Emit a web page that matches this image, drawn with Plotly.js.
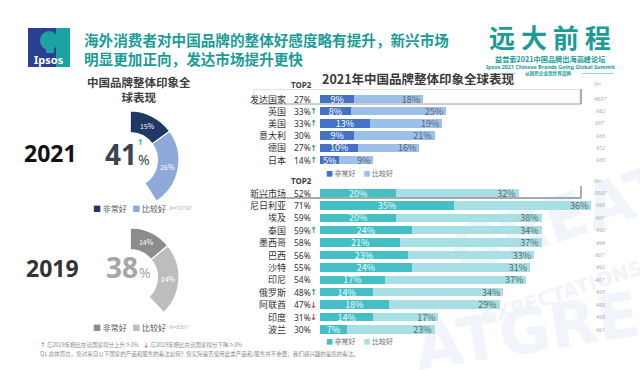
<!DOCTYPE html>
<html>
<head>
<meta charset="utf-8">
<script src="https://cdn.plot.ly/plotly-3.0.1.min.js"></script>
<style>
html,body{margin:0;padding:0;background:#fff;}
#wrap{position:relative;width:640px;height:370px;overflow:hidden;}
#wm{position:absolute;left:0;top:0;width:640px;height:370px;overflow:hidden;z-index:0;font-family:'DejaVu Sans',sans-serif;font-weight:bold;color:#f1f4fb;}
#wm div{position:absolute;white-space:nowrap;line-height:1;transform-origin:left bottom;}
#chart{position:absolute;left:0;top:0;z-index:1;}
</style>
</head>
<body>
<div id="wrap">
  <div id="wm">
    <div style="left:462px;top:222px;font-size:62px;transform:rotate(-18deg);">GREAT</div>
    <div style="left:486px;top:308px;font-size:20px;transform:rotate(-18deg);">EXPECTATIONS</div>
    <div style="left:420px;top:318px;font-size:62px;transform:rotate(-9deg);">ATGREA</div>
  </div>
  <div id="chart"></div>
</div>
<script>
// ---------- data ----------
const devCountries = ['发达国家','英国','美国','意大利','德国','日本'];
const devVery      = [9, 8, 13, 9, 10, 5];
const devFairly    = [18, 25, 19, 21, 16, 9];
const devTop2      = [27, 33, 33, 30, 27, 14];
const devN         = [4887, 982, 967, 986, 972, 980];
const devChange    = [0, 1, 1, 0, 1, 1];

const emCountries = ['新兴市场','尼日利亚','埃及','泰国','墨西哥','巴西','沙特','印尼','俄罗斯','阿联酋','印度','波兰'];
const emVery      = [20, 35, 20, 24, 21, 23, 24, 17, 14, 18, 14, 7];
const emFairly    = [32, 36, 38, 34, 37, 33, 31, 37, 34, 29, 17, 23];
const emTop2      = [52, 71, 59, 59, 58, 56, 55, 54, 48, 47, 31, 30];
const emN         = [5890, 493, 497, 490, 494, 967, 492, 487, 495, 495, 499, 491];
const emChange    = [0, 0, 0, 1, 0, 0, 0, 0, 1, -1, -1, 0];

const donutLabels = ['非常好','比较好'];
const donut2021 = [15, 26];
const donut2019 = [14, 24];
const top2021 = 41, top2019 = 38;
const n2021 = 'N=10790', n2019 = 'N=8361';

// ---------- helpers ----------
const W = 640, H = 370;
const px = x => x / W;
const py = y => 1 - y / H;
const CJK = 'Noto Sans CJK SC, Noto Sans, sans-serif';
const pct = v => v + '%';

const C = {
  devDark:'#4472c4', devLight:'#9dc0e8',
  emDark:'#45bfc6', emLight:'#a7dfe4',
  d21a:'#203864', d21b:'#8eaadb',
  d19a:'#8c8c8c', d19b:'#bdbdbd',
  teal:'#1b9c97', up:'#1fb155', down:'#e8322f'
};

const traces = [];
function barPair(names, very, fairly, yax, cDark, cLight, txtLight, txtDark){
  traces.push({
    type:'bar', orientation:'h', x:very, y:names, yaxis:yax, xaxis:'x',
    marker:{color:cDark}, text:very.map(pct), textposition:'inside',
    insidetextanchor:'middle', constraintext:'none', textangle:0,
    textfont:{family:CJK, size:9, color:txtDark}, hoverinfo:'skip', showlegend:false
  });
  traces.push({
    type:'bar', orientation:'h', x:fairly, y:names, yaxis:yax, xaxis:'x',
    marker:{color:cLight}, text:fairly.map(pct), textposition:'inside',
    insidetextanchor:'end', constraintext:'none', textangle:0,
    textfont:{family:CJK, size:9, color:txtLight}, hoverinfo:'skip', showlegend:false
  });
}
barPair(devCountries, devVery, devFairly, 'y', C.devDark, C.devLight, '#5b6470', '#ffffff');
barPair(emCountries, emVery, emFairly, 'y2', C.emDark, C.emLight, '#5a6a6c', '#eaffff');

function donut(vals, colors, dom){
  const total = vals.reduce((a,b)=>a+b,0);
  traces.push({
    type:'pie', values:[...vals, 100-total], labels:[...donutLabels,'其他'],
    sort:false, direction:'clockwise', rotation:0, hole:0.56,
    marker:{colors:[...colors,'rgba(0,0,0,0)'], line:{color:'#ffffff', width:1.2}},
    text:[...vals.map(pct), ''], textinfo:'text', textposition:'inside',
    insidetextorientation:'horizontal',
    textfont:{family:CJK, size:7, color:'#ffffff'},
    hoverinfo:'skip', showlegend:false, domain:dom
  });
}
donut(donut2021, [C.d21a, C.d21b], {x:[px(81), px(179)], y:[py(209), py(111)]});
donut(donut2019, [C.d19a, C.d19b], {x:[px(81), px(179)], y:[py(326), py(228)]});

// ---------- annotations ----------
const ann = [];
function A(o){ ann.push(Object.assign({showarrow:false, xref:'paper', yref:'paper'}, o)); }

// main title (two lines)
A({x:px(82), y:py(48.5), xanchor:'left', yanchor:'middle', align:'left',
   text:'<b>海外消费者对中国品牌的整体好感度略有提升，新兴市场</b><br><b>明显更加正向，发达市场提升更快</b>',
   font:{family:CJK, size:14.6, color:C.teal}});
// Ipsos logo text
A({x:px(49), y:py(59), xanchor:'center', yanchor:'middle', text:'<b>Ipsos</b>', font:{family:'Noto Sans, sans-serif', size:11, color:'#ffffff'}});
// right logo
A({x:px(550), y:py(36.5), xanchor:'center', yanchor:'middle', text:'<b>远 大 前 程</b>', font:{family:CJK, size:26, color:C.teal}});
A({x:px(550), y:py(58.5), xanchor:'center', yanchor:'middle', text:'<b>益普索2021中国品牌出海高峰论坛</b>', font:{family:CJK, size:7.2, color:C.teal}});
A({x:px(550), y:py(66.5), xanchor:'center', yanchor:'middle', text:'<b>Ipsos 2021 Chinese Brands Going Global Summit</b>', font:{family:'Noto Sans, sans-serif', size:5.4, color:C.teal}});
A({x:px(548), y:py(73.5), xanchor:'center', yanchor:'middle', text:'<b>从国民企业到世界品牌</b>', font:{family:CJK, size:4.6, color:C.teal}});

// left chart title (two lines)
A({x:px(139), y:py(89), xanchor:'center', yanchor:'middle', align:'center',
   text:'<b>中国品牌整体印象全</b><br><b>球表现</b>', font:{family:CJK, size:11.5, color:'#404040'}});
// years
A({x:px(50), y:py(153), xanchor:'center', yanchor:'middle', text:'<b>2021</b>', font:{family:'Noto Sans, sans-serif', size:23, color:'#111111'}});
A({x:px(52), y:py(268), xanchor:'center', yanchor:'middle', text:'<b>2019</b>', font:{family:'Noto Sans, sans-serif', size:23, color:'#333333'}});
// donut centres
A({x:px(139), y:py(154), xanchor:'right', yanchor:'middle', text:'<b>'+top2021+'</b>', font:{family:'Noto Sans, sans-serif', size:28, color:'#3b4453'}});
A({x:px(135.5), y:py(159), xanchor:'left', yanchor:'middle', text:'%', font:{family:'Noto Sans, sans-serif', size:14, color:'#3b4453'}});
A({x:px(140), y:py(142), xanchor:'center', yanchor:'middle', text:'<b>↑</b>', font:{family:'DejaVu Sans', size:8, color:C.up}});
A({x:px(140), y:py(267), xanchor:'right', yanchor:'middle', text:'<b>'+top2019+'</b>', font:{family:'Noto Sans, sans-serif', size:28, color:'#a6a6a6'}});
A({x:px(136.5), y:py(272), xanchor:'left', yanchor:'middle', text:'%', font:{family:'Noto Sans, sans-serif', size:14, color:'#a6a6a6'}});
// donut legends
function dLegend(y, c1, c2, n){
  A({x:px(91), y:py(y), xanchor:'left', yanchor:'middle',
     text:'<span style="color:'+c1+'">■</span> '+donutLabels[0]+'   <span style="color:'+c2+'">■</span> '+donutLabels[1],
     font:{family:CJK, size:8, color:'#595959'}});
  A({x:px(167), y:py(y), xanchor:'left', yanchor:'middle', text:'<i>'+n+'</i>', font:{family:'Noto Sans, sans-serif', size:5.5, color:'#b0b0b0'}});
}
dLegend(208, C.d21a, C.d21b, n2021);
dLegend(327, C.d19a, C.d19b, n2019);

// bar chart title
A({x:px(320), y:py(78), xanchor:'left', yanchor:'middle', text:'<b>2021年中国品牌整体印象全球表现</b>', font:{family:CJK, size:12.5, color:'#3a3a3a'}});
// TOP2 headers and N headers
A({x:px(301), y:py(84), xanchor:'center', yanchor:'middle', text:'<b>TOP2</b>', font:{family:'Noto Sans, sans-serif', size:8, color:'#404040'}});
A({x:px(301), y:py(180), xanchor:'center', yanchor:'middle', text:'<b>TOP2</b>', font:{family:'Noto Sans, sans-serif', size:8, color:'#404040'}});
A({x:px(597), y:py(84), xanchor:'center', yanchor:'middle', text:'<i>N=</i>', font:{family:'Noto Sans, sans-serif', size:5.5, color:'#b0b0b0'}});
A({x:px(597), y:py(181), xanchor:'center', yanchor:'middle', text:'<i>N=</i>', font:{family:'Noto Sans, sans-serif', size:5.5, color:'#b0b0b0'}});

function rowLabels(names, top2, change, nvals, yref){
  names.forEach((nm, i) => {
    ann.push({showarrow:false, xref:'paper', yref:yref, x:px(288), y:nm, xanchor:'right', yanchor:'middle',
      text:nm, font:{family:CJK, size:9, color:'#333333'}});
    ann.push({showarrow:false, xref:'paper', yref:yref, x:px(291.5), y:nm, xanchor:'left', yanchor:'middle',
      text:top2[i]+'%', font:{family:'Noto Sans, sans-serif', size:8.5, color:'#333333'}});
    if (change[i] !== 0) {
      ann.push({showarrow:false, xref:'paper', yref:yref, x:px(313.5), y:nm, xanchor:'center', yanchor:'middle',
        text:'<b>'+(change[i] > 0 ? '↑' : '↓')+'</b>', font:{family:'DejaVu Sans', size:8.5, color:change[i] > 0 ? C.up : C.down}});
    }
    ann.push({showarrow:false, xref:'paper', yref:yref, x:px(600), y:nm, xanchor:'center', yanchor:'middle',
      text:'<i>'+nvals[i]+'</i>', font:{family:'Noto Sans, sans-serif', size:5.5, color:'#b0b0b0'}});
  });
}
rowLabels(devCountries, devTop2, devChange, devN, 'y');
rowLabels(emCountries, emTop2, emChange, emN, 'y2');

// bar legends
function bLegend(y, c1, c2){
  A({x:px(324), y:py(y), xanchor:'left', yanchor:'middle',
     text:'<span style="color:'+c1+'">■</span> 非常好     <span style="color:'+c2+'">■</span> 比较好',
     font:{family:CJK, size:7, color:'#6a6a6a'}});
}
bLegend(173, C.devDark, C.devLight);
bLegend(341, C.emDark, C.emLight);

// footer
A({x:px(38), y:py(345), xanchor:'left', yanchor:'middle',
   text:'<span style="color:'+C.up+'"><b>↑</b></span> 与2019年相比在该国家得分上升≥3%    <span style="color:'+C.down+'"><b>↓</b></span> 与2019年相比在该国家得分下降≥3%',
   font:{family:CJK, size:5.5, color:'#8a8a8a'}});
A({x:px(38), y:py(354), xanchor:'left', yanchor:'middle',
   text:'Q1.总体而言，您对来自以下国家的产品和服务的看法如何？您实际是否使用此类产品和/服务并不重要；我们感兴趣的是您的看法。',
   font:{family:CJK, size:5.5, color:'#8a8a8a'}});

// ---------- shapes ----------
const shapes = [
  // Ipsos logo
  {type:'rect', xref:'paper', yref:'paper', x0:px(28), x1:px(70), y0:py(67), y1:py(28), fillcolor:'#2b3f93', line:{width:0}, layer:'below'},
  {type:'rect', xref:'paper', yref:'paper', x0:px(56), x1:px(70), y0:py(67), y1:py(28), fillcolor:'#1aa3a0', line:{width:0}, layer:'below'},
  {type:'circle', xref:'paper', yref:'paper', x0:px(40), x1:px(58), y0:py(50), y1:py(31), fillcolor:'#1aa3a0', line:{width:0}, layer:'below'},
  {type:'rect', xref:'paper', yref:'paper', x0:px(46), x1:px(54), y0:py(53), y1:py(45), fillcolor:'#1aa3a0', line:{width:0}, layer:'below'},
  // right logo lines
  {type:'line', xref:'paper', yref:'paper', x0:px(500), x1:px(515), y0:py(73.5), y1:py(73.5), line:{color:'#7cc9c5', width:0.8}},
  {type:'line', xref:'paper', yref:'paper', x0:px(582), x1:px(614), y0:py(73.5), y1:py(73.5), line:{color:'#7cc9c5', width:0.8}},
  // developed box with shadow
  {type:'rect', xref:'paper', yref:'paper', x0:px(254), x1:px(580), y0:py(103.5), y1:py(89.5), fillcolor:'rgba(255,255,255,0)', line:{color:'#d9d9d9', width:0.8}, layer:'below'},
  {type:'line', xref:'paper', yref:'paper', x0:px(581), x1:px(581), y0:py(104), y1:py(89), line:{color:'#9a9a9a', width:1.6}},
  {type:'line', xref:'paper', yref:'paper', x0:px(254), x1:px(581), y0:py(104.2), y1:py(104.2), line:{color:'#bdbdbd', width:1.2}},
  // emerging bracket
  {type:'line', xref:'paper', yref:'paper', x0:px(254), x1:px(581), y0:py(198), y1:py(198), line:{color:'#8c8c8c', width:1.4}},
  {type:'line', xref:'paper', yref:'paper', x0:px(581), x1:px(581), y0:py(198), y1:py(186), line:{color:'#8c8c8c', width:1.4}}
];

const layout = {
  width:W, height:H, margin:{l:0, r:0, t:0, b:0},
  paper_bgcolor:'rgba(0,0,0,0)', plot_bgcolor:'rgba(0,0,0,0)',
  showlegend:false, hovermode:false, barmode:'stack', bargap:0.32,
  font:{family:CJK},
  xaxis:{domain:[0.5, 1], range:[0, 320/3.82], visible:false, fixedrange:true},
  yaxis:{domain:[py(168.5), py(90.5)], type:'category', categoryorder:'array', categoryarray:devCountries,
         autorange:'reversed', visible:false, anchor:'x', fixedrange:true},
  yaxis2:{domain:[py(338), py(184.5)], type:'category', categoryorder:'array', categoryarray:emCountries,
         autorange:'reversed', visible:false, anchor:'x', fixedrange:true},
  annotations:ann, shapes:shapes
};

Plotly.newPlot('chart', traces, layout, {staticPlot:true, displayModeBar:false});
</script>
</body>
</html>
